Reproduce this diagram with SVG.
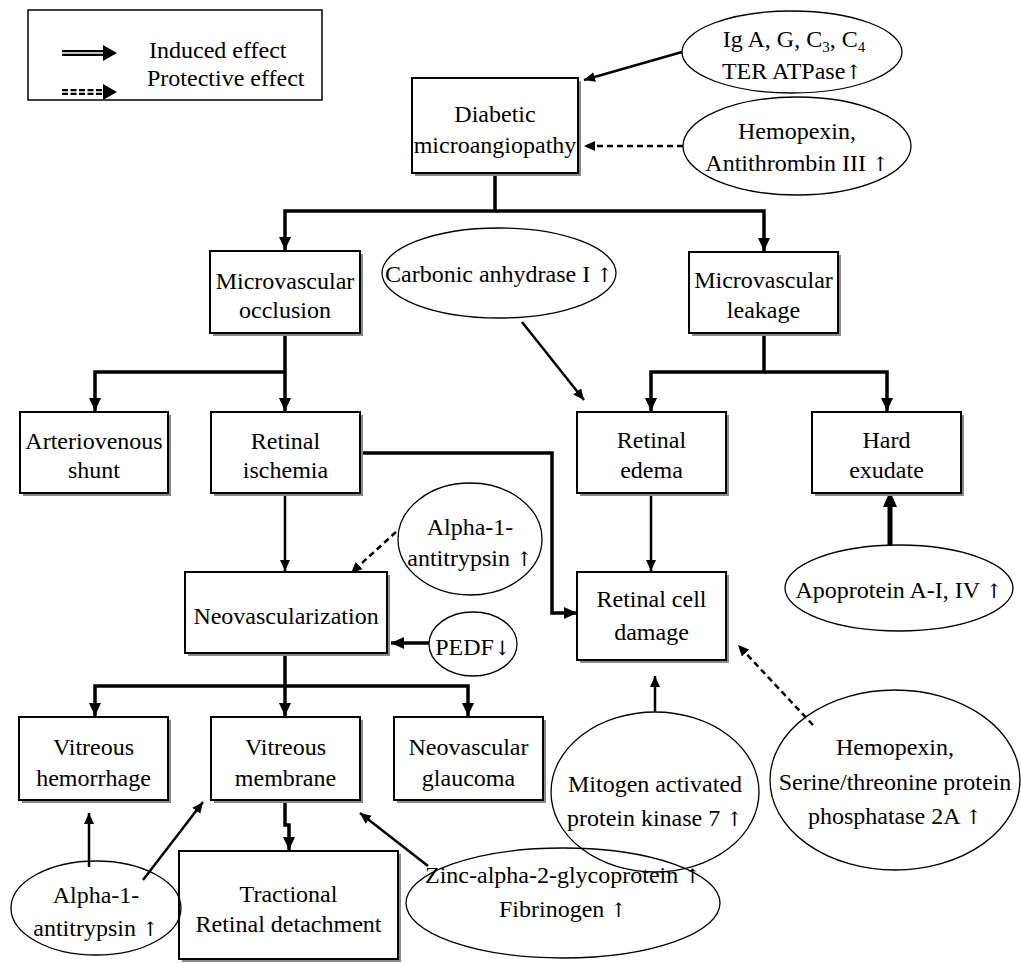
<svg xmlns="http://www.w3.org/2000/svg" width="1021" height="963" viewBox="0 0 1021 963">
<defs>
<marker id="ah" markerUnits="userSpaceOnUse" markerWidth="14" markerHeight="14" refX="13" refY="7" orient="auto"><path d="M0,1 L13,7 L0,13 z" fill="#000"/></marker>
<marker id="ahs" markerUnits="userSpaceOnUse" markerWidth="12" markerHeight="12" refX="11" refY="6" orient="auto"><path d="M0,1 L11,6 L0,11 z" fill="#000"/></marker>
<style>
text{font-family:"Liberation Serif","Times New Roman",serif;font-size:24px;fill:#000;text-anchor:middle}
.ar{font-family:"DejaVu Serif","DejaVu Sans",serif;font-size:20px;fill:#000}
.box{fill:#fff;stroke:#000;stroke-width:2}
.sh{fill:#8a8a8a}
.ell{fill:none;stroke:#000;stroke-width:1.3}
.c{fill:none;stroke:#000;stroke-width:3.5;marker-end:url(#ah)}
.t{fill:none;stroke:#000;stroke-width:2.5;marker-end:url(#ahs)}
.d{fill:none;stroke:#000;stroke-width:2.5;stroke-dasharray:6,4;marker-end:url(#ahs)}
.lg{text-anchor:start}
</style>
</defs>
<rect width="1021" height="963" fill="#fff"/>

<g id="legend">
<rect x="28" y="10" width="294" height="90" fill="#fff" stroke="#000" stroke-width="1.5"/>
<line x1="62" y1="53" x2="104" y2="53" stroke="#000" stroke-width="6"/>
<line x1="62" y1="53" x2="104" y2="53" stroke="#fff" stroke-width="1.5"/>
<path d="M103,45 L117,53 L103,61 z"/>
<line x1="62" y1="92" x2="104" y2="92" stroke="#000" stroke-width="6" stroke-dasharray="6,2.5"/>
<line x1="62" y1="92" x2="104" y2="92" stroke="#fff" stroke-width="1.5"/>
<path d="M103,84 L117,92 L103,100 z"/>
<text class="lg" x="149" y="58">Induced effect</text>
<text class="lg" x="147" y="86">Protective effect</text>
</g>

<g id="connectors">
<path class="t" d="M682,52 L584,80"/>
<path class="d" d="M683,146 L584,146"/>
<path class="c" d="M495,173 V211 H285 V250"/>
<path class="c" d="M495,211 H764 V251"/>
<path class="c" d="M285,333 V372 H95 V411"/>
<path class="c" d="M285,372 V411"/>
<path class="c" d="M764,333 V372 H651 V411"/>
<path class="c" d="M764,372 H887 V411"/>
<path class="t" d="M522,322 L584,400"/>
<path class="c" d="M360,453 H552 V613 H577"/>
<path class="t" d="M651,493 V571"/>
<path class="t" d="M285,493 V571"/>
<path class="d" d="M396,532 L351,573"/>
<path class="c" d="M429,643 H391"/>
<path fill="none" stroke="#000" stroke-width="5" d="M890,545 V505"/>
<path d="M890,491 L897,507 L883,507 z"/>
<path class="c" d="M285,653 V686 H95 V716"/>
<path class="c" d="M285,686 V716"/>
<path class="c" d="M285,686 H468 V716"/>
<path class="t" d="M655,712 V676"/>
<path class="d" d="M813,725 L738,645"/>
<path class="c" d="M285,800 V825 H289 V850"/>
<path class="t" d="M89,867 V813"/>
<path class="t" d="M143,880 L203,802"/>
<path class="t" d="M428,866 L360,813"/>
</g>

<g id="n-diabetic"><rect class="sh" x="415" y="81" width="166" height="95"/><rect class="box" x="412" y="78" width="166" height="95"/><text x="495" y="122">Diabetic</text><text x="495" y="153">microangiopathy</text></g>
<g id="n-occlusion"><rect class="sh" x="213" y="254" width="150" height="82"/><rect class="box" x="210" y="251" width="150" height="82"/><text x="285" y="289">Microvascular</text><text x="285" y="318">occlusion</text></g>
<g id="n-leakage"><rect class="sh" x="692" y="255" width="149" height="81"/><rect class="box" x="689" y="252" width="149" height="81"/><text x="763.5" y="288">Microvascular</text><text x="763.5" y="318">leakage</text></g>
<g id="n-av"><rect class="sh" x="23" y="415" width="148" height="81"/><rect class="box" x="20" y="412" width="148" height="81"/><text x="94" y="449">Arteriovenous</text><text x="94" y="478">shunt</text></g>
<g id="n-ischemia"><rect class="sh" x="214" y="415" width="149" height="81"/><rect class="box" x="211" y="412" width="149" height="81"/><text x="285.5" y="449">Retinal</text><text x="285.5" y="478">ischemia</text></g>
<g id="n-edema"><rect class="sh" x="580" y="415" width="149" height="81"/><rect class="box" x="577" y="412" width="149" height="81"/><text x="651.5" y="448">Retinal</text><text x="651.5" y="478">edema</text></g>
<g id="n-exudate"><rect class="sh" x="815" y="415" width="149" height="81"/><rect class="box" x="812" y="412" width="149" height="81"/><text x="886.5" y="448">Hard</text><text x="886.5" y="478">exudate</text></g>
<g id="n-neo"><rect class="sh" x="188" y="575" width="202" height="81"/><rect class="box" x="185" y="572" width="202" height="81"/><text x="286" y="624">Neovascularization</text></g>
<g id="n-damage"><rect class="sh" x="580" y="575" width="149" height="88"/><rect class="box" x="577" y="572" width="149" height="88"/><text x="651.5" y="607">Retinal cell</text><text x="651.5" y="640">damage</text></g>
<g id="n-hemorrhage"><rect class="sh" x="22" y="720" width="149" height="83"/><rect class="box" x="19" y="717" width="149" height="83"/><text x="93.5" y="755">Vitreous</text><text x="93.5" y="786">hemorrhage</text></g>
<g id="n-membrane"><rect class="sh" x="214" y="720" width="149" height="83"/><rect class="box" x="211" y="717" width="149" height="83"/><text x="285.5" y="755">Vitreous</text><text x="285.5" y="786">membrane</text></g>
<g id="n-glaucoma"><rect class="sh" x="397" y="720" width="149" height="83"/><rect class="box" x="394" y="717" width="149" height="83"/><text x="468.5" y="755">Neovascular</text><text x="468.5" y="786">glaucoma</text></g>
<g id="n-tractional"><rect class="sh" x="182" y="854" width="219" height="108"/><rect class="box" x="179" y="851" width="219" height="108"/><text x="288.5" y="902">Tractional</text><text x="288.5" y="932">Retinal detachment</text></g>

<g id="e-ig"><ellipse class="ell" cx="792" cy="52" rx="110" ry="41"/><text x="794" y="47">Ig A, G, C<tspan font-size="15" dy="5">3</tspan><tspan dy="-5">, C</tspan><tspan font-size="15" dy="5">4</tspan></text><text x="792" y="79">TER ATPase<tspan class="ar">↑</tspan></text></g>
<g id="e-hemopexin1"><ellipse class="ell" cx="797" cy="146" rx="114" ry="49"/><text x="797" y="139">Hemopexin,</text><text x="797" y="171">Antithrombin III <tspan class="ar">↑</tspan></text></g>
<g id="e-carbonic"><ellipse class="ell" cx="499" cy="273" rx="117" ry="45"/><text x="499" y="282">Carbonic anhydrase I <tspan class="ar">↑</tspan></text></g>
<g id="e-alpha1"><ellipse class="ell" cx="470" cy="539" rx="72" ry="56"/><text x="470" y="535">Alpha-1-</text><text x="470" y="566">antitrypsin <tspan class="ar">↑</tspan></text></g>
<g id="e-pedf"><ellipse class="ell" cx="473" cy="644" rx="44" ry="32"/><text x="473" y="655">PEDF<tspan class="ar">↓</tspan></text></g>
<g id="e-apo"><ellipse class="ell" cx="899" cy="588" rx="114" ry="43"/><text x="899" y="598">Apoprotein A-I, IV <tspan class="ar">↑</tspan></text></g>
<g id="e-mitogen"><ellipse class="ell" cx="655" cy="792" rx="104" ry="80"/><text x="655" y="792">Mitogen activated</text><text x="655" y="826">protein kinase 7 <tspan class="ar">↑</tspan></text></g>
<g id="e-serine"><ellipse class="ell" cx="895" cy="780" rx="125" ry="90"/><text x="895" y="755">Hemopexin,</text><text x="895" y="790">Serine/threonine protein</text><text x="895" y="824">phosphatase 2A <tspan class="ar">↑</tspan></text></g>
<g id="e-zinc"><ellipse class="ell" cx="563" cy="903" rx="157" ry="55"/><text x="563" y="883">Zinc-alpha-2-glycoprotein <tspan class="ar">↑</tspan></text><text x="563" y="917">Fibrinogen <tspan class="ar">↑</tspan></text></g>
<g id="e-alpha2"><ellipse class="ell" cx="96" cy="908" rx="85" ry="47"/><text x="96" y="903">Alpha-1-</text><text x="96" y="936">antitrypsin <tspan class="ar">↑</tspan></text></g>
</svg>
